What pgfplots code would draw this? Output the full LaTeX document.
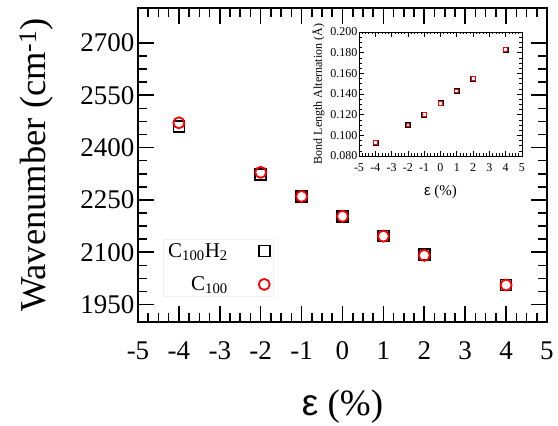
\documentclass[border=0pt]{standalone}
\usepackage{pgfplots}
\pgfplotsset{compat=1.18}
\usepackage{fontspec}
\setmainfont{LiberationSerif}[Extension=.ttf, UprightFont=*-Regular, BoldFont=*-Bold, ItalicFont=*-Italic, BoldItalicFont=*-BoldItalic]
\newfontfamily\sansgreek{Liberation Sans}
\begin{document}
\begin{tikzpicture}
\useasboundingbox (0pt,0pt) rectangle (558pt,426pt);
\begin{axis}[
  at={(138pt,104pt)}, anchor=south west,
  scale only axis, width=409pt, height=314pt,
  xmin=-5, xmax=5, ymin=1900, ymax=2800,
  xtick={-5,-4,-3,-2,-1,0,1,2,3,4,5},
  xticklabels={-5,-4,-3,-2,-1,0,1,2,3,4,5},
  ytick={1950,2100,2250,2400,2550,2700},
  yticklabels={1950,2100,2250,2400,2550,2700},
  minor x tick num=3, minor y tick num=3,
  tick align=inside,
  major tick length=16pt, minor tick length=9pt,
  every tick/.style={line width=1.6pt, black},
  axis line style={line width=2.4pt},
  ticklabel style={font=\fontsize{27}{30}\selectfont},
  xticklabel style={yshift=-16pt},
  xlabel={{\sansgreek ε} (\%)},
  ylabel={Wavenumber (cm\textsuperscript{-1})},
  xlabel style={font=\fontsize{37}{40}\selectfont, at={(axis description cs:0.5,-0.27)}, anchor=center},
  ylabel style={font=\fontsize{36.5}{40}\selectfont, at={(axis description cs:-0.249,0.5)}, anchor=center},
  legend plot pos=right,
  legend cell align=right,
  legend style={draw=black!6, fill=none, at={(axis description cs:0.33,0.264)}, anchor=north east,
    font=\fontsize{21}{24}\selectfont, row sep=14pt},
]
\addplot[only marks, mark=square, mark size=5.5pt, mark options={line width=1.6pt, black}]
  coordinates {(-4,2460) (-2,2323) (-1,2260) (0,2203) (1,2146) (2,2094) (4,2006)};
\addlegendentry{C\textsubscript{100}H\textsubscript{2}\rule{29pt}{0pt}}
\addplot[only marks, mark=o, mark size=5.5pt, mark options={line width=1.8pt, red}]
  coordinates {(-4,2471) (-2,2329) (-1,2260) (0,2203) (1,2146) (2,2091) (4,2006)};
\addlegendentry{C\textsubscript{100}\rule{29pt}{0pt}}
\end{axis}
\begin{axis}[
  at={(359pt,270pt)}, anchor=south west,
  scale only axis, width=163pt, height=124pt,
  xmin=-5, xmax=5, ymin=0.08, ymax=0.2,
  xtick={-5,-4,-3,-2,-1,0,1,2,3,4,5},
  xticklabels={-5,-4,-3,-2,-1,0,1,2,3,4,5},
  ytick={0.08,0.1,0.12,0.14,0.16,0.18,0.2},
  yticklabels={0.080,0.100,0.120,0.140,0.160,0.180,0.200},
  minor x tick num=4, minor y tick num=3,
  tick align=inside,
  major tick length=5pt, minor tick length=2.5pt,
  every tick/.style={line width=0.6pt, black},
  axis line style={line width=0.8pt},
  axis background/.style={fill=white},
  ticklabel style={font=\fontsize{12}{14}\selectfont},
  xticklabel style={yshift=-4pt},
  yticklabel style={xshift=2pt},
  xlabel={{\sansgreek ε} (\%)},
  ylabel={Bond Length Alternation (Å)},
  xlabel style={font=\fontsize{15}{17}\selectfont, at={(axis description cs:0.5,-0.29)}, anchor=center},
  ylabel style={font=\fontsize{12}{14}\selectfont, at={(axis description cs:-0.25,0.5)}, anchor=center},
]
\addplot[only marks, mark=square, mark size=2.5pt, mark options={line width=0.6pt, black}]
  coordinates {(-4,0.093) (-2,0.110) (-1,0.120) (0,0.131) (1,0.143) (2,0.155) (4,0.183)};
\addplot[only marks, mark=square, mark size=1.9pt, mark options={line width=0.8pt, red}]
  coordinates {(-4,0.093) (-2,0.110) (-1,0.120) (0,0.131) (1,0.143) (2,0.155) (4,0.183)};
\end{axis}
\end{tikzpicture}
\end{document}
